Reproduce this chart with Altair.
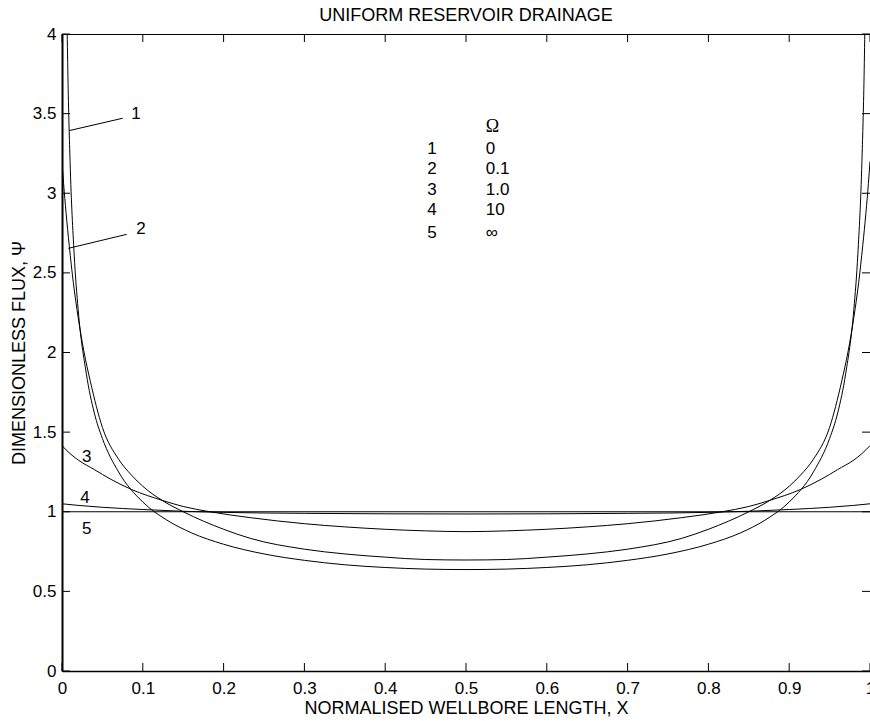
import altair as alt
import pandas as pd

# ---- data ----
x_c1 = [0.005, 0.0075, 0.01, 0.015, 0.02, 0.03, 0.04, 0.05, 0.07, 0.1, 0.13, 0.16, 0.2, 0.25,
        0.3, 0.35, 0.4, 0.45, 0.5, 0.55, 0.6, 0.65, 0.7, 0.75, 0.8, 0.84, 0.87, 0.9, 0.93,
        0.95, 0.96, 0.97, 0.98, 0.985, 0.99, 0.9925, 0.995]
psi_c1 = [4.51, 3.69, 3.20, 2.62, 2.27, 1.87, 1.62, 1.46, 1.25, 1.061, 0.947, 0.868, 0.796, 0.735,
          0.695, 0.667, 0.650, 0.640, 0.637, 0.640, 0.650, 0.667, 0.695, 0.735, 0.796, 0.868, 0.947,
          1.061, 1.25, 1.46, 1.62, 1.87, 2.27, 2.62, 3.20, 3.69, 4.51]

x_c2 = [0.0, 0.002, 0.005, 0.009, 0.014, 0.02, 0.027, 0.035, 0.05, 0.07, 0.086, 0.1, 0.125, 0.15,
        0.2, 0.233, 0.3, 0.35, 0.4, 0.45, 0.5, 0.55, 0.6, 0.65, 0.7, 0.767, 0.8, 0.85, 0.875, 0.9,
        0.914, 0.93, 0.95, 0.965, 0.973, 0.98, 0.986, 0.991, 0.995, 0.998, 1.0]
psi_c2 = [3.20, 3.06, 2.88, 2.67, 2.44, 2.22, 2.01, 1.82, 1.53, 1.33, 1.23, 1.16, 1.068, 1.0,
          0.89, 0.833, 0.765, 0.735, 0.715, 0.70, 0.697, 0.70, 0.715, 0.735, 0.765, 0.833, 0.89,
          1.0, 1.068, 1.16, 1.23, 1.33, 1.53, 1.82, 2.01, 2.22, 2.44, 2.67, 2.88, 3.06, 3.20]

x_c3 = [0.0, 0.01, 0.02, 0.04, 0.06, 0.086, 0.125, 0.15, 0.183, 0.233, 0.3, 0.35, 0.4, 0.45, 0.5,
        0.55, 0.6, 0.65, 0.7, 0.767, 0.817, 0.85, 0.875, 0.914, 0.94, 0.96, 0.98, 0.99, 1.0]
psi_c3 = [1.415, 1.365, 1.325, 1.265, 1.205, 1.14, 1.07, 1.033, 1.0, 0.963, 0.925, 0.905, 0.89,
          0.88, 0.875, 0.88, 0.89, 0.905, 0.925, 0.963, 1.0, 1.033, 1.07, 1.14, 1.205, 1.265,
          1.325, 1.365, 1.415]

x_c4 = [0.0, 0.02, 0.05, 0.1, 0.15, 0.2, 0.3, 0.4, 0.5, 0.6, 0.7, 0.8, 0.85, 0.9, 0.95, 0.98, 1.0]
psi_c4 = [1.05, 1.04, 1.028, 1.014, 1.003, 0.996, 0.99, 0.987, 0.986, 0.987, 0.99, 0.996, 1.003,
          1.014, 1.028, 1.04, 1.05]

x_c5 = [0.0, 1.0]
psi_c5 = [1.0, 1.0]

curve_ids = ["1", "2", "3", "4", "5"]
omega_labels = ["0", "0.1", "1.0", "10", "\u221e"]

x_ticks = [0, 0.1, 0.2, 0.3, 0.4, 0.5, 0.6, 0.7, 0.8, 0.9, 1.0]
y_ticks = [0, 0.5, 1, 1.5, 2, 2.5, 3, 3.5, 4]

# curve labels (text and where they sit, in data units)
label_text = ["1", "2", "3", "4", "5"]
label_x = [0.0916, 0.0978, 0.0306, 0.0285, 0.0306]
label_y = [3.496, 2.774, 1.346, 1.089, 0.890]

# leader lines for labels 1 and 2
lead_x = [0.0087, 0.0078]
lead_y = [3.393, 2.654]
lead_x2 = [0.0751, 0.0801]
lead_y2 = [3.471, 2.742]

# legend table
legend_num_x = 0.458
legend_val_x = 0.5244
legend_head_y = 3.418
legend_row_y = [3.277, 3.152, 3.020, 2.895, 2.750]

FONT = "Liberation Sans"
W, H = 808, 637

# ---- build tables ----
rows = []
for cid, xs, ys in zip(curve_ids, [x_c1, x_c2, x_c3, x_c4, x_c5],
                       [psi_c1, psi_c2, psi_c3, psi_c4, psi_c5]):
    for xv, yv in zip(xs, ys):
        rows.append({"curve": cid, "x": xv, "psi": yv})
df = pd.DataFrame(rows)

xscale = alt.Scale(domain=[0, 1], nice=False, zero=False)
yscale = alt.Scale(domain=[0, 4], nice=False, zero=False)

x_axis = alt.Axis(values=x_ticks, format="~g", ticks=False, grid=False, labelFont=FONT,
                  labelFontSize=17, labelPadding=9, labelColor="black", labelFlush=False,
                  labelOverlap=False, domainColor="black", domainWidth=1.5,
                  title="NORMALISED WELLBORE LENGTH, X", titleFont=FONT, titleFontSize=18,
                  titleFontWeight="normal", titleColor="black", titleY=42,
                  titleBaseline="alphabetic")
y_axis = alt.Axis(values=y_ticks, format="~g", ticks=False, grid=False, labelFont=FONT,
                  labelFontSize=17, labelPadding=6, labelColor="black", labelFlush=False,
                  labelOverlap=False, domainColor="black", domainWidth=2,
                  title="DIMENSIONLESS FLUX, \u03a8", titleFont=FONT, titleFontSize=18,
                  titleFontWeight="normal", titleColor="black", titleX=-38, titleY=H / 2,
                  titleAngle=270, titleAlign="center", titleBaseline="alphabetic")

X = alt.X("x:Q", scale=xscale, axis=x_axis)
Y = alt.Y("psi:Q", scale=yscale, axis=y_axis)

lines = alt.Chart(df).mark_line(color="black", strokeWidth=1, interpolate="monotone",
                                clip=True).encode(x=X, y=Y, detail="curve:N")

xt = pd.DataFrame({"x": x_ticks})
yt = pd.DataFrame({"psi": y_ticks})
tick_b = alt.Chart(xt).mark_rule(color="black", strokeWidth=1).encode(
    x=X, y=alt.value(H), y2=alt.value(H - 8))
tick_t = alt.Chart(xt).mark_rule(color="black", strokeWidth=1).encode(
    x=X, y=alt.value(0), y2=alt.value(8))
tick_l = alt.Chart(yt).mark_rule(color="black", strokeWidth=1).encode(
    y=Y, x=alt.value(0), x2=alt.value(8))
tick_r = alt.Chart(yt).mark_rule(color="black", strokeWidth=1).encode(
    y=Y, x=alt.value(W), x2=alt.value(W - 8))

lab_df = pd.DataFrame({"x": label_x, "psi": label_y, "t": label_text})
labels = alt.Chart(lab_df).mark_text(font=FONT, fontSize=17, color="black",
                                     align="center", baseline="middle").encode(
    x=X, y=Y, text="t:N")

lead_df = pd.DataFrame({"x": lead_x, "psi": lead_y, "x2": lead_x2, "psi2": lead_y2})
leaders = alt.Chart(lead_df).mark_rule(color="black", strokeWidth=1).encode(
    x=X, y=Y, x2="x2:Q", y2="psi2:Q")

leg_num = pd.DataFrame({"x": [legend_num_x] * 5, "psi": legend_row_y, "t": curve_ids})
leg_val = pd.DataFrame({"x": [legend_val_x] * 5, "psi": legend_row_y, "t": omega_labels})
leg_head = pd.DataFrame({"x": [legend_val_x], "psi": [legend_head_y], "t": ["\u03a9"]})
legend_nums = alt.Chart(leg_num).mark_text(font=FONT, fontSize=17, color="black",
                                           align="center", baseline="middle").encode(
    x=X, y=Y, text="t:N")
legend_vals = alt.Chart(leg_val).mark_text(font=FONT, fontSize=17, color="black",
                                           align="left", baseline="middle").encode(
    x=X, y=Y, text="t:N")
legend_head = alt.Chart(leg_head).mark_text(font="Liberation Serif", fontSize=18, color="black",
                                            align="left", baseline="middle").encode(
    x=X, y=Y, text="t:N")

title_df = pd.DataFrame({"t": ["UNIFORM RESERVOIR DRAINAGE"]})
title = alt.Chart(title_df).mark_text(font=FONT, fontSize=18, color="black", align="center",
                                      baseline="alphabetic").encode(
    x=alt.value(W / 2), y=alt.value(-13), text="t:N")

chart = alt.layer(lines, tick_b, tick_t, tick_l, tick_r, leaders, labels, legend_nums,
                  legend_vals, legend_head, title).properties(
    width=W, height=H,
    padding={"left": 62, "top": 34, "right": 0, "bottom": 48},
    autosize=alt.AutoSizeParams(type="none"),
    background="white",
).configure_view(stroke="black", strokeWidth=1)

chart.save("out.html", embed_options={"renderer": "svg", "actions": False})
